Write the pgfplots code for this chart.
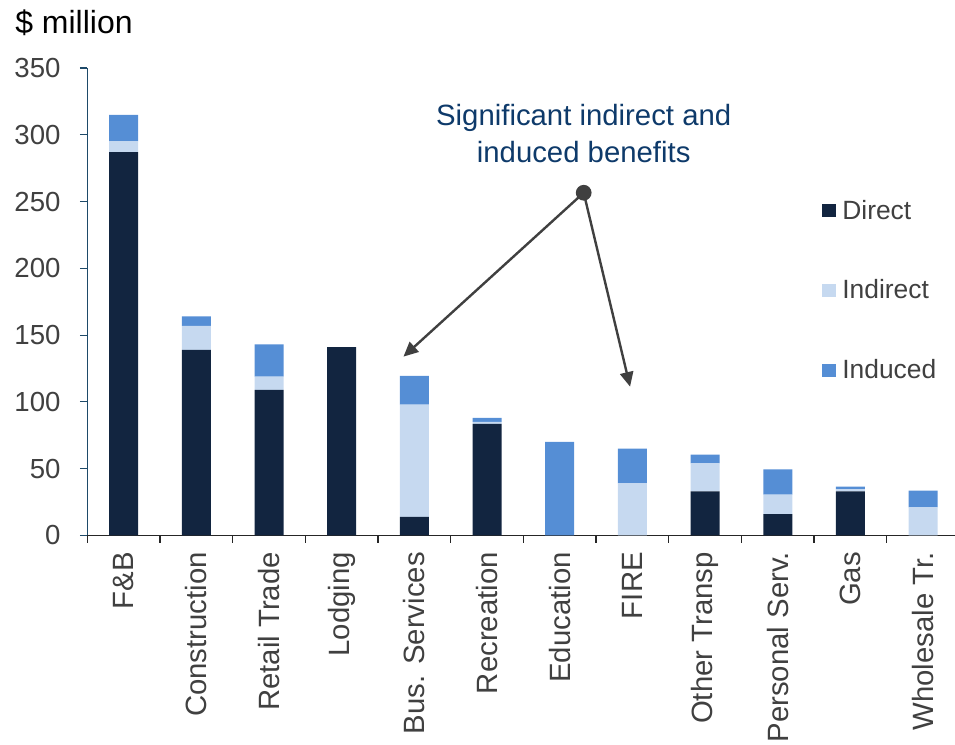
\documentclass[border=0pt]{standalone}
\usepackage{fontspec}
\setmainfont{Liberation Sans}
\usepackage{pgfplots}
\usepackage{pgfplotstable}
\pgfplotsset{compat=1.18}
\usetikzlibrary{arrows.meta}

\definecolor{cdirect}{RGB}{18,37,64}
\definecolor{cindirect}{RGB}{198,217,240}
\definecolor{cinduced}{RGB}{85,142,213}
\definecolor{yaxisc}{RGB}{30,74,105}
\definecolor{xaxisc}{RGB}{38,38,38}
\definecolor{labelc}{RGB}{64,64,64}
\definecolor{annotc}{RGB}{14,58,106}
\definecolor{arrowc}{RGB}{64,64,64}

% Economic impact by sector ($ million)
\pgfplotstableread{
idx direct indirect induced
0   287    8     20
1   139    18    7
2   109    10    24
3   141    0     0
4   14     84    21.5
5   83.5   1.5   3
6   0      0     70
7   0      39    26
8   33     21    6.5
9   16     14.5  19
10  33     1.5   2
11  0      21    12.5
}\impact

\begin{document}
\begin{tikzpicture}
\useasboundingbox (0,0) rectangle (716.25pt,558pt);
\begin{axis}[
  at={(65.5pt,156.4pt)}, anchor=south west,
  width=650.8pt, height=350.6pt, scale only axis,
  ybar stacked, bar width=21.75pt,
  xmin=-0.5, xmax=11.44, ymin=0, ymax=350,
  enlargelimits=false, clip=false,
  axis lines=left, axis line style={-},
  x axis line style={draw=xaxisc, line width=1pt},
  y axis line style={draw=yaxisc, line width=0.8pt},
  tick align=outside, major tick length=5.6pt,
  xtick={-0.5,0.5,...,10.5}, xticklabels={},
  xtick style={draw=xaxisc, line width=1pt},
  ytick={0,50,...,350},
  ytick style={draw=yaxisc, line width=0.8pt},
  yticklabel style={font=\fontsize{20.7}{24}\selectfont, text=labelc, xshift=-11pt},
  /pgf/number format/assume math mode=true,
  extra x ticks={0,1,...,11},
  extra x tick labels={F\&B,Construction,Retail Trade,Lodging,Bus. Services,Recreation,Education,FIRE,Other Transp,Personal Serv.,Gas,Wholesale Tr.},
  extra x tick style={major tick length=0pt,
    tick label style={rotate=90, anchor=east, font=\fontsize{22}{24}\selectfont, text=labelc, xshift=-9pt}},
  legend style={at={(axis cs:9.61,183.5)}, anchor=west, draw=none, fill=none,
    inner sep=0pt, row sep=44pt, font=\fontsize{19.8}{24}\selectfont, text=labelc,
    nodes={inner sep=0pt},
    /tikz/every odd column/.append style={column sep=5pt}},
  legend cell align=left,
  legend image code/.code={\fill[#1] (0pt,-5pt) rectangle (10pt,5pt);},
]
\addplot[fill=cdirect, draw=none] table[x=idx, y=direct] {\impact};
\addplot[fill=cindirect, draw=none] table[x=idx, y=indirect] {\impact};
\addplot[fill=cinduced, draw=none] table[x=idx, y=induced] {\impact};
\legend{Direct,Indirect,Induced}

% annotation
\node[anchor=base, inner sep=0pt, text=annotc, font=\fontsize{22}{26}\selectfont] at (axis cs:6.33,307.3) {Significant indirect and};
\node[anchor=base, inner sep=0pt, text=annotc, font=\fontsize{22}{26}\selectfont] at (axis cs:6.33,279.1) {induced benefits};
\draw[arrowc, line width=1.8pt, -{Triangle[length=11pt,width=10pt]}] (axis cs:6.33,256.6) -- (axis cs:3.85,133.9);
\draw[arrowc, line width=1.8pt, -{Triangle[length=11pt,width=10pt]}] (axis cs:6.33,256.6) -- (axis cs:6.968,111.4);
\fill[arrowc] (axis cs:6.33,256.6) circle (5.9pt);

\node[anchor=base west, inner sep=0pt, text=black, font=\fontsize{24}{28}\selectfont] at (axis cs:-1.495,376) {\$ million};
\end{axis}
\end{tikzpicture}
\end{document}
